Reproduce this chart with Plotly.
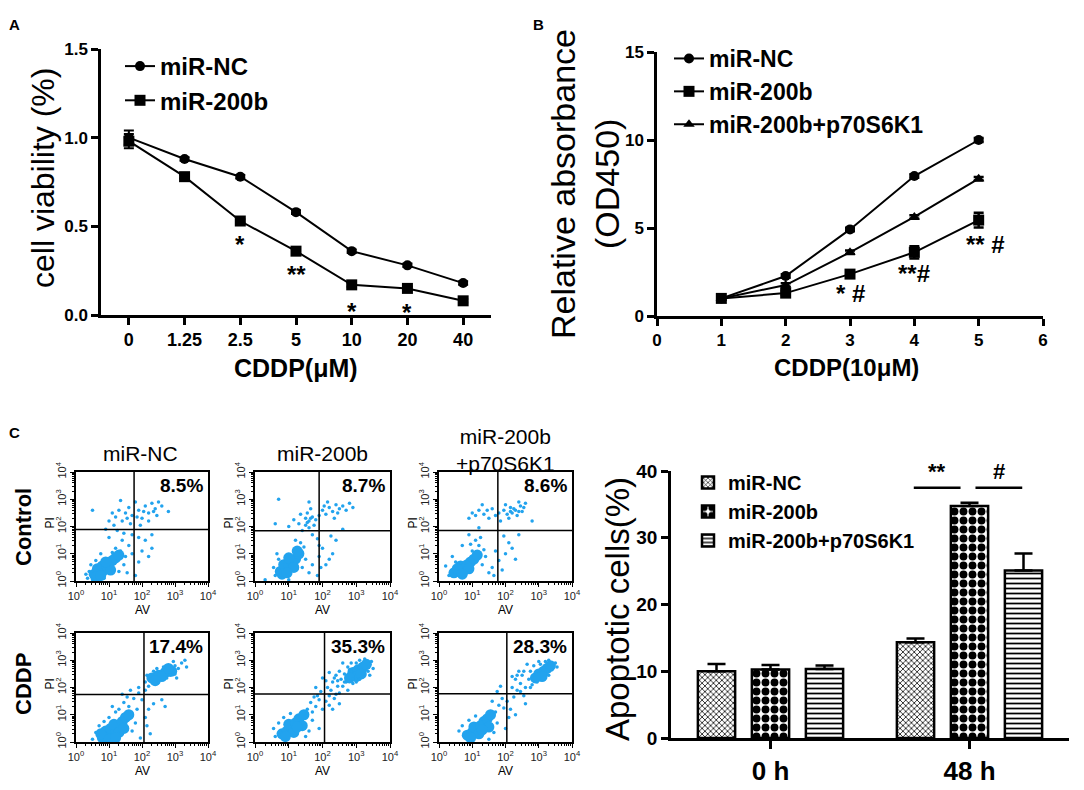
import numpy as np
import plotly.graph_objects as go

# the page body keeps its default 8px margin, so the figure is laid out
# in reference pixels and shifted by that offset
OX, OY = 8, 8
W, H = 1084 - OX, 790 - OY
FONT = "Liberation Sans, Arial, sans-serif"
CYAN = "#22a3ee"

# ---- panel A: cell viability vs CDDP dose
doses_a = ['0', '1.25', '2.5', '5', '10', '20', '40']
via_nc = [1.00, 0.88, 0.78, 0.58, 0.36, 0.28, 0.18]
via_200b = [0.98, 0.78, 0.53, 0.36, 0.17, 0.15, 0.08]
via_nc_err = [0.04, 0.01, 0.01, 0.01, 0.01, 0.01, 0.01]
via_200b_err = [0.04, 0.01, 0.01, 0.01, 0.01, 0.01, 0.01]
sig_a_x = ['2.5', '5', '10', '20']
sig_a_y = [0.43, 0.26, 0.055, 0.05]
sig_a_text = ['*', '**', '*', '*']

# ---- panel B: relative absorbance
time_b = [1, 2, 3, 4, 5]
od_nc = [1.0, 2.27, 4.92, 7.95, 10.0]
od_200b = [1.0, 1.30, 2.38, 3.62, 5.45]
od_p70 = [1.0, 1.76, 3.62, 5.63, 7.80]
od_nc_err = [0.05, 0.1, 0.1, 0.1, 0.12]
od_200b_err = [0.05, 0.1, 0.15, 0.35, 0.42]
od_p70_err = [0.05, 0.1, 0.1, 0.1, 0.1]
sig_b_x = [3, 4, 5.1]
sig_b_y = [1.3, 2.4, 4.05]
sig_b_text = ['* #', '**#', '** #']

# ---- panel C bars: apoptotic cells
times_c = ['0 h', '48 h']
apo_nc = [10.0, 14.35]
apo_200b = [10.25, 34.75]
apo_p70 = [10.35, 25.1]
apo_nc_err = [1.1, 0.55]
apo_200b_err = [0.7, 0.5]
apo_p70_err = [0.5, 2.55]
bracket_x0 = [0.72, 1.03]
bracket_x1 = [0.955, 1.265]
bracket_y = 37.5
bracket_text = ['**', '#']

# ---- panel C flow plots (log10 decades: AV, PI)
flow_rows = ['Control', 'CDDP']
flow_cols = ['miR-NC', 'miR-200b', 'miR-200b<br>+p70S6K1']
flow_pct = ['8.5%', '8.7%', '8.6%', '17.4%', '35.3%', '28.3%']
gate_x = [1.76, 1.90, 1.77, 2.06, 2.06, 2.04]
gate_y = [1.89, 1.84, 1.85, 1.74, 1.76, 1.77]

nc_ctrl_core = [(0.55, 0.25), (0.7, 0.3), (0.85, 0.4), (0.65, 0.45), (0.8, 0.55), (0.95, 0.5), (1.0, 0.65),
                (1.1, 0.75), (1.2, 0.85), (1.05, 0.4), (0.9, 0.7), (1.3, 0.95), (0.6, 0.15), (0.75, 0.2)]
nc_ctrl_dots = [(0.35, 0.1), (0.4, 0.35), (0.45, 0.6), (0.3, 0.25), (0.6, 0.75), (0.5, 0.05), (0.85, 0.1),
                (1.3, 0.35), (1.45, 0.6), (1.5, 0.9), (1.35, 1.1), (1.2, 1.2), (1.55, 0.3), (1.6, 1.3),
                (1.4, 1.5), (1.0, 1.6), (0.9, 1.9), (1.7, 1.7), (1.9, 1.6), (2.1, 1.5), (2.3, 1.7), (2.0, 1.1),
                (2.2, 0.9), (1.9, 0.7), (2.3, 1.2), (1.8, 0.2), (1.7, 1.0), (0.5, 2.6), (1.0, 2.2), (1.1, 2.5),
                (1.2, 2.35), (1.3, 2.6), (1.4, 2.2), (1.5, 2.5), (1.6, 2.7), (1.7, 2.4), (1.8, 2.9), (1.9, 2.6),
                (2.0, 2.3), (2.1, 2.75), (2.2, 2.5), (2.3, 2.85), (2.4, 2.65), (2.5, 2.9), (2.6, 2.75),
                (2.2, 2.2), (1.95, 2.05), (1.65, 2.1), (2.8, 2.55), (1.35, 2.95), (2.45, 2.4), (1.15, 2.05),
                (1.25, 1.85), (1.55, 2.3), (2.05, 2.55), (2.35, 2.55), (1.85, 2.35), (1.45, 1.75), (0.75, 1.0),
                (1.1, 1.05)]

b_ctrl_core = [(0.75, 0.35), (0.9, 0.45), (0.85, 0.6), (1.0, 0.55), (1.1, 0.7), (1.2, 0.8), (1.0, 0.85),
               (1.3, 1.0), (0.8, 0.25), (1.15, 0.5), (1.25, 1.1), (0.95, 0.3)]
b_ctrl_dots = [(0.6, 0.2), (0.55, 0.5), (0.7, 0.8), (0.65, 1.0), (1.4, 0.5), (1.5, 0.8), (1.45, 1.25),
               (1.35, 1.4), (1.2, 1.5), (1.6, 0.3), (1.7, 0.6), (1.85, 0.2), (1.9, 0.9), (1.95, 0.5), (2.1, 0.6),
               (2.2, 0.8), (2.3, 1.0), (2.0, 1.2), (2.4, 1.5), (2.25, 1.65), (1.7, 1.7), (2.6, 1.9), (0.3, 0.05),
               (1.0, 0.05), (1.0, 2.0), (1.15, 2.25), (1.3, 2.1), (1.35, 2.45), (1.5, 2.3), (1.55, 2.5),
               (1.6, 2.2), (1.7, 2.35), (1.65, 2.65), (1.8, 2.25), (1.75, 2.05), (1.9, 2.4), (2.0, 2.6),
               (2.1, 2.45), (2.2, 2.7), (2.3, 2.55), (2.4, 2.8), (2.5, 2.65), (2.6, 2.75), (2.7, 2.6),
               (2.8, 2.85), (2.9, 2.7), (2.35, 2.3), (2.15, 2.9), (1.6, 2.9), (0.7, 3.0), (0.6, 2.1),
               (1.55, 2.15), (1.65, 2.3), (1.5, 2.05), (1.6, 1.95), (1.4, 1.85), (1.9, 1.3), (2.45, 2.5),
               (2.05, 2.75), (1.85, 1.55)]

p_ctrl_core = [(0.45, 0.3), (0.6, 0.35), (0.75, 0.45), (0.65, 0.55), (0.85, 0.6), (0.95, 0.7), (1.05, 0.8),
               (0.9, 0.45), (1.15, 0.95), (0.55, 0.45), (0.7, 0.25)]
p_ctrl_dots = [(0.2, 0.55), (0.3, 0.2), (0.5, 0.7), (0.4, 0.9), (0.7, 1.3), (1.0, 1.1), (1.2, 1.3), (1.25, 1.6),
               (1.1, 1.5), (1.3, 0.6), (1.4, 0.9), (1.5, 0.3), (1.6, 0.5), (1.7, 1.1), (1.65, 0.2), (1.9, 0.4),
               (2.0, 1.0), (2.1, 1.4), (2.2, 1.2), (2.3, 0.8), (1.95, 1.65), (2.4, 1.7), (0.9, 1.7), (1.8, 0.75),
               (0.9, 2.3), (1.0, 2.5), (1.1, 2.4), (1.2, 2.6), (1.35, 2.45), (1.5, 2.3), (1.6, 2.65), (1.7, 2.4),
               (1.8, 2.5), (1.85, 2.2), (1.95, 2.6), (2.05, 2.45), (2.15, 2.7), (2.2, 2.5), (2.3, 2.6),
               (2.35, 2.4), (2.45, 2.75), (2.5, 2.55), (2.6, 2.85), (2.1, 2.3), (2.0, 2.8), (2.8, 2.2),
               (1.3, 2.8), (2.4, 2.9), (2.25, 2.65), (2.4, 2.55), (2.15, 2.55), (2.55, 2.7), (1.45, 2.6),
               (1.2, 1.95), (1.35, 1.15), (0.95, 1.35)]

nc_cddp_core = [(0.8, 0.15), (0.95, 0.2), (1.1, 0.3), (0.9, 0.4), (1.05, 0.5), (1.2, 0.45), (1.3, 0.6),
                (1.15, 0.65), (1.4, 0.75), (1.3, 0.35), (1.5, 0.9), (0.75, 0.3), (1.0, 0.1), (1.45, 0.5),
                (1.6, 1.0), (1.2, 0.15), (2.3, 2.35), (2.5, 2.45), (2.7, 2.55), (2.9, 2.6), (2.6, 2.4),
                (2.8, 2.7), (2.4, 2.25)]
nc_cddp_dots = [(0.5, 0.1), (0.6, 0.35), (0.7, 0.6), (0.85, 0.75), (1.0, 0.9), (1.2, 1.1), (1.7, 0.4),
                (1.8, 0.7), (1.6, 1.3), (1.45, 1.45), (1.3, 1.2), (1.75, 1.6), (1.9, 1.8), (1.55, 1.65),
                (2.1, 0.9), (2.2, 1.2), (2.35, 1.4), (2.15, 0.6), (2.6, 1.55), (2.7, 1.3), (2.0, 1.55),
                (1.85, 1.2), (1.1, 1.3), (2.1, 2.2), (2.15, 2.45), (2.2, 2.05), (2.35, 2.6), (2.5, 2.2),
                (2.65, 2.75), (2.75, 2.35), (3.0, 2.8), (3.1, 2.7), (3.2, 2.9), (3.3, 3.0), (3.0, 2.5),
                (2.95, 2.95), (3.35, 2.75), (2.45, 2.7), (1.9, 2.0), (2.1, 1.9), (1.65, 1.9), (1.4, 1.75),
                (2.25, 0.3), (1.95, 0.15), (3.05, 2.35), (2.85, 2.45)]

b_cddp_core = [(0.8, 0.3), (0.95, 0.4), (1.1, 0.5), (1.0, 0.65), (1.2, 0.7), (1.3, 0.85), (1.15, 0.35),
               (1.4, 0.6), (0.9, 0.2), (1.45, 1.0), (1.25, 0.55), (2.9, 2.55), (3.05, 2.65), (3.2, 2.75),
               (3.0, 2.4), (3.15, 2.5), (2.8, 2.35), (3.3, 2.85)]
b_cddp_dots = [(0.6, 0.2), (0.55, 0.5), (0.7, 0.7), (0.85, 0.9), (1.05, 1.05), (1.6, 0.4), (1.7, 0.8),
               (1.55, 1.2), (1.65, 1.45), (1.8, 1.3), (1.75, 1.65), (1.9, 1.55), (1.95, 1.85), (2.0, 1.2),
               (2.1, 1.5), (2.2, 1.7), (2.15, 2.0), (2.25, 1.9), (2.3, 2.2), (2.35, 1.6), (2.45, 2.05),
               (2.5, 1.8), (2.55, 2.3), (2.6, 2.05), (2.65, 2.5), (2.7, 2.2), (2.75, 1.9), (2.8, 2.65),
               (2.9, 2.15), (3.0, 2.9), (3.1, 2.3), (3.2, 2.5), (3.35, 2.6), (3.45, 2.95), (3.5, 2.7),
               (2.4, 2.45), (2.2, 2.55), (2.0, 2.35), (1.8, 2.0), (2.5, 1.4), (2.3, 1.2), (1.5, 0.2),
               (1.9, 0.5), (2.6, 2.9), (3.25, 3.05), (2.35, 2.35), (2.5, 2.6), (2.65, 2.2), (2.75, 2.75),
               (2.85, 2.9), (3.1, 3.0), (3.4, 2.45), (2.2, 1.35), (2.4, 1.75), (2.1, 2.25), (2.45, 2.25),
               (2.9, 2.3), (3.0, 2.2), (1.85, 1.7), (1.7, 1.1)]

p_cddp_core = [(0.85, 0.25), (1.0, 0.35), (1.15, 0.45), (1.05, 0.55), (1.25, 0.6), (1.35, 0.75), (1.2, 0.3),
               (0.95, 0.15), (1.45, 0.85), (1.5, 0.55), (1.3, 0.45), (1.55, 1.0), (3.0, 2.5), (3.15, 2.6),
               (3.25, 2.7), (3.1, 2.4), (2.9, 2.35), (3.35, 2.8)]
p_cddp_dots = [(0.6, 0.4), (0.7, 0.6), (0.9, 0.8), (1.1, 0.95), (1.65, 0.35), (1.75, 0.7), (1.7, 1.1),
               (1.8, 1.35), (1.6, 1.5), (1.9, 1.6), (1.75, 1.85), (1.85, 2.05), (1.95, 1.25), (2.05, 1.5),
               (2.15, 1.2), (2.25, 1.65), (2.2, 2.0), (2.3, 2.3), (2.35, 1.9), (2.45, 2.15), (2.5, 2.45),
               (2.55, 1.7), (2.6, 2.0), (2.7, 2.3), (2.75, 2.6), (2.8, 2.1), (2.85, 2.8), (2.95, 2.2),
               (3.05, 2.85), (3.2, 2.95), (3.3, 2.45), (3.4, 2.65), (3.5, 2.9), (3.55, 2.75), (2.4, 2.6),
               (2.65, 2.85), (2.1, 0.9), (2.3, 1.0), (2.6, 1.4), (2.0, 0.5), (1.5, 0.1), (2.35, 2.45),
               (2.55, 2.6), (2.85, 2.45), (3.0, 2.95), (3.3, 3.0), (2.2, 2.4), (2.45, 1.85), (2.75, 2.0)]

flow_core = [nc_ctrl_core, b_ctrl_core, p_ctrl_core, nc_cddp_core, b_cddp_core, p_cddp_core]
flow_dots = [nc_ctrl_dots, b_ctrl_dots, p_ctrl_dots, nc_cddp_dots, b_cddp_dots, p_cddp_dots]


def fx(px):
    return (px - OX) / W


def fy(py):
    return 1 - (py - OY) / H


def bold(size):
    return dict(family=FONT, size=size, color="black", weight="bold")


def plain(size):
    return dict(family=FONT, size=size, color="black")


def ann(x, y, text, font, xref="paper", yref="paper", **kw):
    a = dict(x=x, y=y, xref=xref, yref=yref, text=text, font=font, showarrow=False,
             xanchor="center", yanchor="middle")
    a.update(kw)
    return a


fig = go.Figure()
annotations = []
shapes = []

# ---- A
fig.add_trace(go.Scatter(x=doses_a, y=via_nc, name="miR-NC", mode="lines+markers",
                         line=dict(color="black", width=2),
                         marker=dict(symbol="circle", size=10, color="black"),
                         error_y=dict(array=via_nc_err, color="black", thickness=2, width=5),
                         cliponaxis=False, xaxis="x", yaxis="y", legend="legend"))
fig.add_trace(go.Scatter(x=doses_a, y=via_200b, name="miR-200b", mode="lines+markers",
                         line=dict(color="black", width=2),
                         marker=dict(symbol="square", size=11, color="black"),
                         error_y=dict(array=via_200b_err, color="black", thickness=2, width=5),
                         cliponaxis=False, xaxis="x", yaxis="y", legend="legend"))
for sx, sy, st in zip(sig_a_x, sig_a_y, sig_a_text):
    annotations.append(ann(doses_a.index(sx), sy, st, bold(24), xref="x", yref="y", yshift=-6))

# ---- B
for name, vals, errs, sym, size in [("miR-NC", od_nc, od_nc_err, "circle", 10),
                                    ("miR-200b", od_200b, od_200b_err, "square", 11),
                                    ("miR-200b+p70S6K1", od_p70, od_p70_err, "triangle-up", 10)]:
    fig.add_trace(go.Scatter(x=time_b, y=vals, name=name, mode="lines+markers",
                             line=dict(color="black", width=2),
                             marker=dict(symbol=sym, size=size, color="black"),
                             error_y=dict(array=errs, color="black", thickness=2.5, width=5),
                             cliponaxis=False, xaxis="x2", yaxis="y2", legend="legend2"))
for sx, sy, st in zip(sig_b_x, sig_b_y, sig_b_text):
    annotations.append(ann(sx, sy, st, bold(24), xref="x2", yref="y2"))

# ---- C bars
bar_specs = [("miR-NC", apo_nc, apo_nc_err, dict(shape="x", size=4, solidity=0.35)),
             ("miR-200b", apo_200b, apo_200b_err, dict(shape=".", size=9, solidity=0.6)),
             ("miR-200b+p70S6K1", apo_p70, apo_p70_err, dict(shape="-", size=5, solidity=0.35))]
for name, vals, errs, pat in bar_specs:
    pat.update(fgcolor="black", bgcolor="white")
    fig.add_trace(go.Bar(x=times_c, y=vals, name=name,
                         marker=dict(color="white", line=dict(color="black", width=2.5), pattern=pat),
                         error_y=dict(type="data", array=errs, arrayminus=[0] * len(errs), symmetric=False,
                                      color="black", thickness=2.5, width=9),
                         xaxis="x3", yaxis="y3", legend="legend3"))
for x0, x1, st in zip(bracket_x0, bracket_x1, bracket_text):
    shapes.append(dict(type="line", xref="x3", yref="y3", x0=x0, x1=x1, y0=bracket_y, y1=bracket_y,
                       line=dict(color="black", width=2.5)))
    annotations.append(ann((x0 + x1) / 2, bracket_y + 0.2, st, bold(22), xref="x3", yref="y3",
                           yanchor="bottom"))

# ---- C flow plots
col_px = [(76, 208), (255, 390), (439, 572)]
row_px = [(472, 581), (633, 742)]
minor_vals = [d + np.log10(k) for d in range(4) for k in range(2, 10)]
decade_text = ["10<sup>%d</sup>" % d for d in range(5)]
layout_axes = {}
for i in range(6):
    r, c = divmod(i, 3)
    n = 4 + i
    x0, x1 = col_px[c]
    y0, y1 = row_px[r]
    common = dict(range=[0, 4], showline=True, linewidth=1.5, linecolor="black", mirror=True,
                  ticks="outside", ticklen=4, tickwidth=1.2, tickcolor="black", automargin=False,
                  tickvals=list(range(5)), ticktext=decade_text, tickfont=dict(family=FONT, size=11, color="#222"),
                  showgrid=False, zeroline=False, fixedrange=True,
                  minor=dict(tickmode="array", tickvals=minor_vals, ticks="outside", ticklen=2.5,
                             tickcolor="black", showgrid=False))
    layout_axes["xaxis%d" % n] = dict(common, domain=[fx(x0), fx(x1)], anchor="y%d" % n)
    layout_axes["yaxis%d" % n] = dict(common, domain=[fy(y1), fy(y0)], anchor="x%d" % n, tickangle=-90)
    core = flow_core[i]
    dots = flow_dots[i]
    fig.add_trace(go.Scatter(x=[p[0] for p in core], y=[p[1] for p in core], mode="markers",
                             marker=dict(size=11, color=CYAN, line=dict(width=0)), showlegend=False,
                             xaxis="x%d" % n, yaxis="y%d" % n, hoverinfo="skip"))
    fig.add_trace(go.Scatter(x=[p[0] for p in dots], y=[p[1] for p in dots], mode="markers",
                             marker=dict(size=3.5, color=CYAN, line=dict(width=0)), showlegend=False,
                             xaxis="x%d" % n, yaxis="y%d" % n, hoverinfo="skip"))
    shapes.append(dict(type="line", xref="x%d" % n, yref="y%d" % n, x0=gate_x[i], x1=gate_x[i], y0=0, y1=4,
                       line=dict(color="black", width=1.5)))
    shapes.append(dict(type="line", xref="x%d" % n, yref="y%d" % n, x0=0, x1=4, y0=gate_y[i], y1=gate_y[i],
                       line=dict(color="black", width=1.5)))
    annotations.append(ann(3.9, 3.5, flow_pct[i], bold(19), xref="x%d" % n, yref="y%d" % n, xanchor="right"))
    annotations.append(ann(fx((x0 + x1) / 2), fy(y1 + 29), "AV", plain(12)))
    annotations.append(ann(fx(x0 - 27), fy((y0 + y1) / 2 - 3), "PI", plain(12), textangle=-90))

# column and row titles
for cx, cy, t in zip([140, 322, 505], [453, 453, 450], flow_cols):
    annotations.append(ann(fx(cx), fy(cy), t, plain(21)))
for ry, t in zip([527, 684], flow_rows):
    annotations.append(ann(fx(23), fy(ry), t, bold(22), textangle=-90))

# panel letters and axis titles
for lx, ly, t in [(14, 25, "A"), (538, 25, "B"), (14, 432, "C")]:
    annotations.append(ann(fx(lx), fy(ly), t, bold(15)))
for tx, ty, t, ang, fnt in [(43, 178, "cell viability (%)", -90, plain(32)),
                            (296, 368, "CDDP(μM)", 0, bold(25)),
                            (563, 184, "Relative absorbance", -90, plain(34)),
                            (607, 184, "(OD450)", -90, plain(34)),
                            (846, 368, "CDDP(10μM)", 0, bold(24)),
                            (617, 609, "Apoptotic cells(%)", -90, plain(33))]:
    annotations.append(ann(fx(tx), fy(ty), t, fnt, textangle=ang))

axis_line = dict(showline=True, linewidth=2.5, linecolor="black", ticks="outside", ticklen=7, tickwidth=2.5,
                 tickcolor="black", showgrid=False, zeroline=False, fixedrange=True, automargin=False)

fig.update_layout(
    template="none",
    width=W, height=H, margin=dict(l=0, r=0, t=0, b=0, autoexpand=False),
    paper_bgcolor="white", plot_bgcolor="white",
    font=dict(family=FONT, color="black"),
    barmode="group", bargap=0.186, bargroupgap=0.31,
    xaxis=dict(axis_line, domain=[fx(101), fx(491)], anchor="y", type="category",
               categoryorder="array", categoryarray=doses_a, range=[-0.5, 6.5], tickfont=bold(18)),
    yaxis=dict(axis_line, domain=[fy(315), fy(49)], anchor="x", range=[0, 1.5], tickvals=[0, 0.5, 1.0, 1.5],
               tickformat=".1f", tickfont=bold(17)),
    xaxis2=dict(axis_line, domain=[fx(657), fx(1043)], anchor="y2", range=[0, 6], dtick=1, tickfont=bold(17)),
    yaxis2=dict(axis_line, domain=[fy(316), fy(52)], anchor="x2", range=[0, 15], dtick=5, tickfont=bold(17)),
    xaxis3=dict(axis_line, domain=[fx(671), fx(1069)], anchor="y3", type="category",
                range=[-0.5, 1.5], ticklen=8, tickfont=bold(26)),
    yaxis3=dict(axis_line, domain=[fy(738), fy(471)], anchor="x3", range=[0, 40], dtick=10,
                tickfont=bold(19)),
    legend=dict(x=fx(120), y=fy(44), xanchor="left", yanchor="top", font=bold(24),
                bgcolor="rgba(0,0,0,0)", tracegroupgap=0),
    legend2=dict(x=fx(669), y=fy(37), xanchor="left", yanchor="top", font=bold(23),
                 bgcolor="rgba(0,0,0,0)"),
    legend3=dict(x=fx(688), y=fy(463), xanchor="left", yanchor="top", font=bold(20),
                 bgcolor="rgba(0,0,0,0)"),
    annotations=annotations, shapes=shapes,
    **layout_axes,
)

fig.write_html("out.html")
